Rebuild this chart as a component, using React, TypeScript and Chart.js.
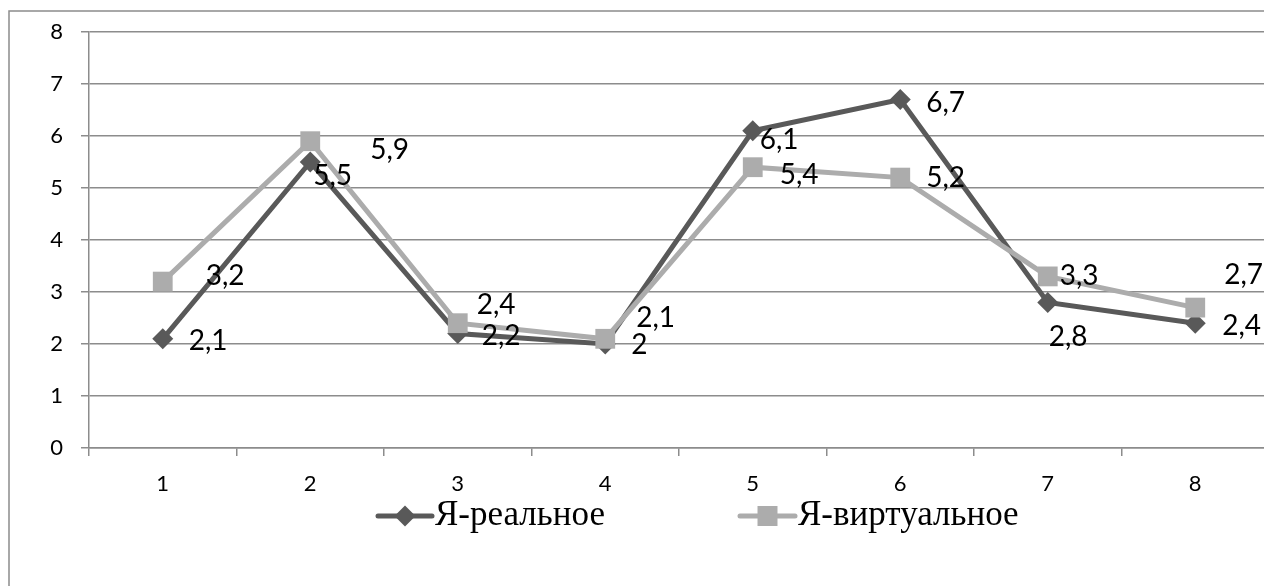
import React, { useEffect, useRef } from 'react';
import { Chart, registerables } from 'chart.js';

Chart.register(...registerables);

// ---- data ----
const categories = ['1', '2', '3', '4', '5', '6', '7', '8'];
const seriesNames = ['Я-реальное', 'Я-виртуальное'];
const realValues = [2.1, 5.5, 2.2, 2, 6.1, 6.7, 2.8, 2.4];
const virtualValues = [3.2, 5.9, 2.4, 2.1, 5.4, 5.2, 3.3, 2.7];
const yMin = 0;
const yMax = 8;
const yStep = 1;

// label placement (offset from point: left edge dx, digit-centre dy)
const realLabelOffsets = [[26, 1], [3, 13], [24, 1], [26, 0], [7, 8], [26, 2], [1, 34], [27, 2]];
const virtualLabelOffsets = [[43, -7], [60, 8], [19, -19], [31, -22], [27, 7], [26, -1], [12, -1], [29, -34]];

const REAL_COLOR = '#595959';
const VIRT_COLOR = '#acacac';
const GRID_COLOR = '#8c8c8c';
const CANVAS_W = 1290;
const CANVAS_H = 586;

const fmt = (v: number) => String(v).replace('.', ',');

const pointLabelsPlugin = {
  id: 'pointLabels',
  afterDatasetsDraw(chart: any) {
    const ctx = chart.ctx;
    ctx.save();
    ctx.font = '28px Lato';
    ctx.fillStyle = '#000';
    ctx.textAlign = 'left';
    ctx.textBaseline = 'alphabetic';
    chart.data.datasets.forEach((ds: any, di: number) => {
      const meta = chart.getDatasetMeta(di);
      meta.data.forEach((pt: any, i: number) => {
        const [dx, dy] = ds.labelOffsets[i];
        ctx.fillText(fmt(ds.data[i]), pt.x + dx, pt.y + dy + 10);
      });
    });
    ctx.restore();
  },
};

const legendPlugin = {
  id: 'customLegend',
  afterDraw(chart: any) {
    const ctx = chart.ctx;
    const y = 516;
    const items = [
      { ds: 0, x1: 378, x2: 432, tx: 435 },
      { ds: 1, x1: 740, x2: 795, tx: 798 },
    ];
    ctx.save();
    items.forEach((it) => {
      const ds = chart.data.datasets[it.ds];
      ctx.strokeStyle = ds.borderColor;
      ctx.lineWidth = 5;
      ctx.lineCap = 'round';
      ctx.beginPath();
      ctx.moveTo(it.x1, y);
      ctx.lineTo(it.x2, y);
      ctx.stroke();
      const cx = (it.x1 + it.x2) / 2;
      ctx.fillStyle = ds.borderColor;
      ctx.beginPath();
      if (ds.pointStyle === 'rectRot') {
        const r = 10.5;
        ctx.moveTo(cx, y - r);
        ctx.lineTo(cx + r, y);
        ctx.lineTo(cx, y + r);
        ctx.lineTo(cx - r, y);
        ctx.closePath();
      } else {
        const h = 10;
        ctx.rect(cx - h, y - h, 2 * h, 2 * h);
      }
      ctx.fill();
      ctx.fillStyle = '#000';
      ctx.font = '35px "Liberation Serif"';
      ctx.textAlign = 'left';
      ctx.textBaseline = 'alphabetic';
      ctx.fillText(ds.label, it.tx, y + 9);
    });
    // outer frame
    ctx.strokeStyle = GRID_COLOR;
    ctx.lineWidth = 1.5;
    ctx.strokeRect(9, 11, CANVAS_W + 40, CANVAS_H + 40);
    ctx.restore();
  },
};

export default function App() {
  const ref = useRef<HTMLCanvasElement | null>(null);

  useEffect(() => {
    if (!ref.current) return;
    const chart = new Chart(ref.current, {
      type: 'line',
      data: {
        labels: categories,
        datasets: [
          {
            label: seriesNames[0],
            data: realValues,
            borderColor: REAL_COLOR,
            backgroundColor: REAL_COLOR,
            borderWidth: 5,
            pointStyle: 'rectRot',
            pointRadius: 10.5,
            pointBorderWidth: 0,
            tension: 0,
            order: 2,
            labelOffsets: realLabelOffsets,
          } as any,
          {
            label: seriesNames[1],
            data: virtualValues,
            borderColor: VIRT_COLOR,
            backgroundColor: VIRT_COLOR,
            borderWidth: 5,
            pointStyle: 'rect',
            pointRadius: 14,
            pointBorderWidth: 0,
            tension: 0,
            order: 1,
            labelOffsets: virtualLabelOffsets,
          } as any,
        ],
      },
      options: {
        responsive: false,
        animation: false,
        devicePixelRatio: 1,
        layout: { padding: { left: 0, top: 32, right: CANVAS_W - 1269, bottom: 0 } },
        plugins: {
          legend: { display: false },
          tooltip: { enabled: false },
        },
        scales: {
          x: {
            offset: true,
            grid: {
              offset: true,
              drawOnChartArea: false,
              drawTicks: true,
              tickLength: 8,
              color: GRID_COLOR,
              lineWidth: 1.5,
            },
            border: { display: true, color: GRID_COLOR, width: 1.5 },
            ticks: {
              color: '#000',
              font: { family: 'Lato', size: 22 },
              padding: 15,
              maxRotation: 0,
            },
            afterFit: (s: any) => {
              s.height = CANVAS_H - 448;
            },
          },
          y: {
            min: yMin,
            max: yMax,
            ticks: {
              stepSize: yStep,
              color: '#000',
              font: { family: 'Lato', size: 22 },
              padding: 18,
            },
            grid: {
              color: GRID_COLOR,
              lineWidth: 1.5,
              tickLength: 8,
            },
            border: { display: true, color: GRID_COLOR, width: 1.5 },
            afterFit: (s: any) => {
              s.width = 89;
            },
          },
        },
      },
      plugins: [pointLabelsPlugin, legendPlugin],
    });
    return () => chart.destroy();
  }, []);

  return (
    <div
      style={{
        position: 'fixed',
        left: 0,
        top: 0,
        width: 1264,
        height: 586,
        overflow: 'hidden',
        background: '#fff',
      }}
    >
      <canvas ref={ref} width={CANVAS_W} height={CANVAS_H} style={{ display: 'block' }} />
    </div>
  );
}
